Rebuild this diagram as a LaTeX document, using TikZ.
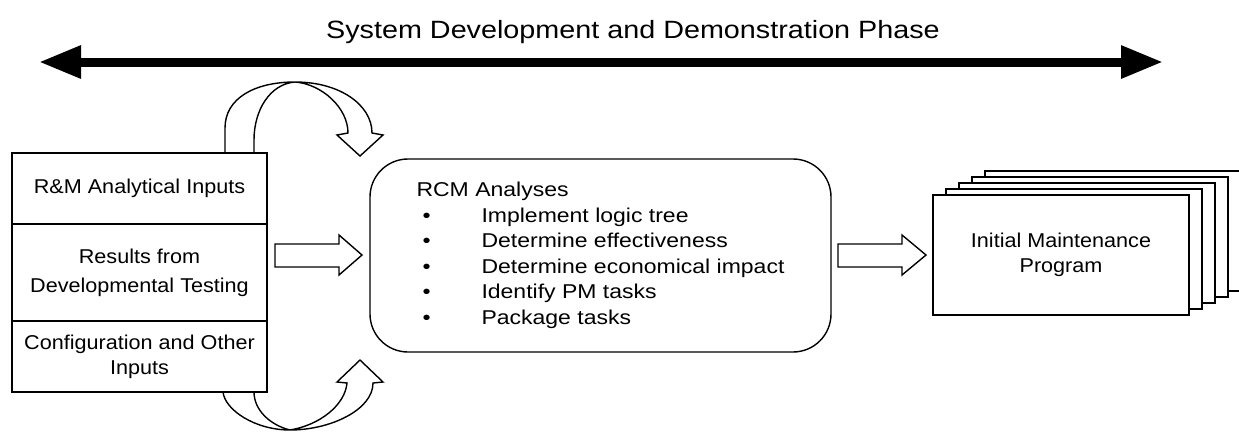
\documentclass[tikz,border=0pt]{standalone}
\usepackage{fontspec}
\setmainfont{Liberation Sans}
\newfontfamily\wf[FakeStretch=1.08]{Liberation Sans}
\newfontfamily\wfb[FakeStretch=1.15]{Liberation Sans}
\usetikzlibrary{arrows.meta}
\begin{document}
\begin{tikzpicture}[x=1pt,y=-1pt,line width=1.4pt,
  inbox/.style={draw,minimum width=255pt,inner sep=0pt,align=center,font=\wf\fontsize{20}{25}\selectfont},
  rcmbox/.style={draw,rounded corners=38pt,minimum width=461pt,minimum height=193pt,inner sep=0pt,align=left,font=\wfb\fontsize{20}{25.5}\selectfont},
  mpbox/.style={draw,fill=white,minimum width=256pt,minimum height=120pt,inner sep=0pt,align=center,font=\wf\fontsize{20}{25}\selectfont},
  barrow/.style={draw,line width=1.4pt,line join=miter},
  phase/.style={line width=9pt,{Triangle[length=42pt,width=31pt]}-{Triangle[length=42pt,width=31pt]}}
]
\useasboundingbox (0,0) rectangle (1239,432);

% title
\node[anchor=base,font=\wfb\fontsize{25}{29}\selectfont] (title) at (633,38) {System Development and Demonstration Phase};
\coordinate (pl) at (39,62);
\coordinate (pr) at (1163,62);
\draw[phase] (pl) -- (pr);

% input boxes
\node[inbox,minimum height=71pt] (in1) at (139.5,188.5) {R\&M Analytical Inputs};
\node[inbox,minimum height=97pt] (in2) at (139.5,272.5) {Results from\\[4pt]Developmental Testing};
\node[inbox,minimum height=71pt] (in3) at (139.5,356.5) {Configuration and Other\\Inputs};

% RCM box
\node[rcmbox] (rcm) at (600.5,255.5) {RCM Analyses\\
\makebox[65pt][l]{\hspace{6pt}\textbullet}Implement logic tree\\
\makebox[65pt][l]{\hspace{6pt}\textbullet}Determine effectiveness\\
\makebox[65pt][l]{\hspace{6pt}\textbullet}Determine economical impact\\
\makebox[65pt][l]{\hspace{6pt}\textbullet}Identify PM tasks\\
\makebox[65pt][l]{\hspace{6pt}\textbullet}Package tasks};

% maintenance program stack
\foreach \k in {4,3,2,1} {
  \node[mpbox] (mp\k) at ({1061+13*\k},{255-6*\k}) {};
}
\node[mpbox] (mp) at (1061,255) {Initial Maintenance\\Program};

% block arrows
\draw[barrow] (275,244) -- (339,244) -- (339,235) -- (362,255) -- (339,275) -- (339,267) -- (275,267) -- cycle;
\draw[barrow] (838,244) -- (902,244) -- (902,235) -- (926,255) -- (902,275) -- (902,267) -- (838,267) -- cycle;

% curved arrows
\draw[barrow] (225,153) -- (225,128) .. controls (225,98) and (255,82) .. (295,82)
  .. controls (340,82) and (372,105) .. (372,133) -- (383,135) -- (360,156) -- (337,135) -- (348,133)
  .. controls (348,108) and (322,84) .. (295,82) .. controls (270,84) and (254,110) .. (254,140) -- (254,153);
\draw[barrow] (223,392) .. controls (225,410) and (255,430) .. (290,430)
  .. controls (330,430) and (373,410) .. (373,383) -- (383,382) -- (360,360) -- (337,382) -- (347,383)
  .. controls (345,405) and (320,425) .. (290,430) .. controls (270,425) and (254,410) .. (254,392);
\end{tikzpicture}
\end{document}
